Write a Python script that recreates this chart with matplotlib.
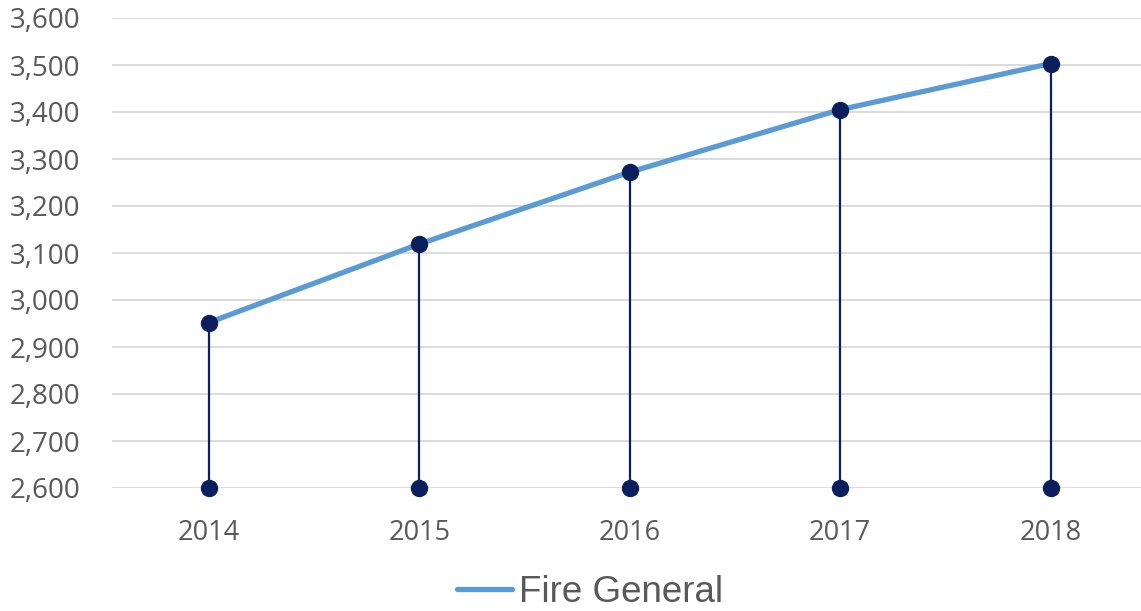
import matplotlib.pyplot as plt
from matplotlib.ticker import FuncFormatter

years = [2014, 2015, 2016, 2017, 2018]
fire_general = [2952, 3119, 3272, 3405, 3503]
y_min, y_max, y_step = 2600, 3600, 100

line_blue = "#5B9BD5"
navy = "#0A1F5C"
grey_text = "#595959"

fig = plt.figure(figsize=(11.41, 6.11), dpi=100)
ax = fig.add_axes([112 / 1141, 1 - 488 / 611, 1029 / 1141, 470 / 611])

# drop lines from each point down to the axis floor
ax.vlines(years, y_min, fire_general, color=navy, lw=1.6, zorder=3)
ax.plot(years, fire_general, color=line_blue, lw=3.8, solid_capstyle="round",
        zorder=2, label="Fire General")
ax.plot(years, fire_general, "o", color=navy, ms=11.5, zorder=4)
ax.plot(years, [y_min] * len(years), "o", color=navy, ms=11.5, zorder=4,
        clip_on=False)

ax.set_ylim(y_min, y_max)
ax.set_xlim(years[0] - 0.46, years[-1] + 0.43)
ax.set_yticks(range(y_min, y_max + 1, y_step))
ax.set_xticks(years)
ax.yaxis.set_major_formatter(FuncFormatter(lambda v, p: f"{int(v):,}"))
ax.grid(axis="y", color="#D9D9D9", lw=1.3, zorder=0)
ax.set_axisbelow(True)
for s in ax.spines.values():
    s.set_visible(False)
ax.tick_params(length=0, colors=grey_text)
for lab in ax.get_yticklabels():
    lab.set_fontfamily("Open Sans")
    lab.set_fontsize(20)
for lab in ax.get_xticklabels():
    lab.set_fontfamily("Open Sans")
    lab.set_fontsize(19.5)
ax.tick_params(axis="y", pad=23)
ax.tick_params(axis="x", pad=22)

leg = fig.legend(loc="center", bbox_to_anchor=(590 / 1141, 1 - 592 / 611),
                 frameon=False, borderpad=0.1,
                 prop={"family": "Liberation Sans", "size": 26.5}, handlelength=1.5,
                 handletextpad=0.2)
for t in leg.get_texts():
    t.set_color(grey_text)

fig.savefig("out.png", dpi=100)
